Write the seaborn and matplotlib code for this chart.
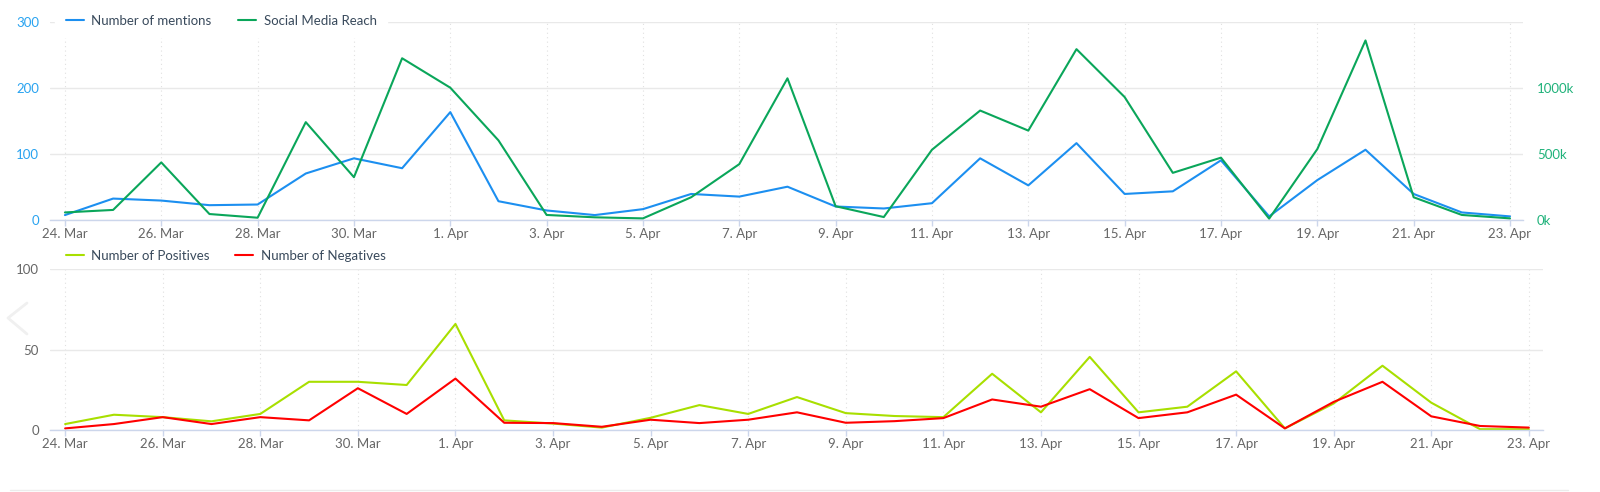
import numpy as np
import pandas as pd
import matplotlib.pyplot as plt
import matplotlib.dates as mdates
from matplotlib.ticker import FuncFormatter
from matplotlib.lines import Line2D
import seaborn as sns

# daily values, 24 Mar - 23 Apr
dates = pd.date_range("2020-03-24", "2020-04-23", freq="D")

mentions = [7, 32, 29, 22, 23, 70, 93, 78, 163, 28,
            14, 7, 16, 39, 35, 50, 20, 17, 25, 93,
            52, 116, 39, 43, 90, 5, 60, 106, 39, 11, 5]
reach = [55e3, 74e3, 434e3, 43e3, 15e3, 739e3, 322e3, 1223e3, 1000e3, 601e3,
         36e3, 18e3, 10e3, 170e3, 421e3, 1071e3, 102e3, 20e3, 530e3, 827e3,
         675e3, 1292e3, 929e3, 355e3, 470e3, 8e3, 535e3, 1358e3, 170e3, 36e3, 10e3]

positives = [3.7, 9.5, 8, 5.4, 10, 30, 30, 28, 66, 6,
             4, 1.5, 7.6, 15.5, 10, 20.5, 10.5, 8.7, 8, 35,
             11, 45.5, 11, 14.5, 36.5, 1, 16.5, 40, 17, 0.5, 0.5]
negatives = [1, 3.7, 8, 3.7, 8, 6, 26, 10, 32, 4.5,
             4.3, 2, 6.4, 4.3, 6.4, 11, 4.5, 5.5, 7.4, 19,
             14.5, 25.4, 7.4, 11, 22, 1, 17.5, 30, 8.5, 2.5, 1.5]

C_MENT = "#1c8ff0"
C_REACH = "#0aa65a"
C_POS = "#a8df00"
C_NEG = "#ff0000"
GRID = "#e9e9e9"
AXIS = "#ccd6eb"
LABEL = "#666666"
LEGEND_TXT = "#394a5c"

sns.set_theme(style="white")
plt.rcParams["font.family"] = ["Lato", "DejaVu Sans"]

fig = plt.figure(figsize=(16, 4.92), dpi=100)

W, H = 1600, 492
ax = fig.add_axes([50 / W, 1 - 219.7 / H, (1523 - 50) / W, (219.7 - 21.7) / H])
ax_b = fig.add_axes([50 / W, 1 - 430 / H, (1543 - 50) / W, (430 - 269.3) / H])

df_top = pd.DataFrame({"date": dates, "mentions": mentions, "reach": reach})
df_bot = pd.DataFrame({"date": dates, "Number of Positives": positives,
                       "Number of Negatives": negatives})
df_bot = df_bot.melt(id_vars="date", var_name="series", value_name="count")

tick_dates = dates[::2]


def day_fmt(x, pos):
    d = mdates.num2date(x)
    return f"{d.day}. {d:%b}"


def style_axis(a, pad_left, pad_right):
    a.set_xlim(dates[0] - pd.Timedelta(days=pad_left), dates[-1] + pd.Timedelta(days=pad_right))
    a.set_xticks(tick_dates)
    a.xaxis.set_major_formatter(FuncFormatter(day_fmt))
    for s in ["top", "left", "right"]:
        a.spines[s].set_visible(False)
    a.spines["bottom"].set_color(AXIS)
    a.spines["bottom"].set_linewidth(1)
    a.grid(axis="y", color=GRID, linewidth=1, linestyle="-")
    a.grid(axis="x", color="#e0e0e0", linewidth=0.8, linestyle=(0, (1, 3)))
    a.set_axisbelow(True)
    a.tick_params(axis="x", colors=AXIS, labelcolor=LABEL, length=4, width=1,
                  labelsize=9.5, pad=2, bottom=True)
    a.tick_params(axis="y", length=0, labelsize=9.5, pad=8)
    a.set_xlabel("")
    a.set_ylabel("")


# top panel: mentions and reach
sns.lineplot(data=df_top, x="date", y="mentions", ax=ax, color=C_MENT,
             linewidth=1.5, label="Number of mentions", legend=False)
ax2 = ax.twinx()
sns.lineplot(data=df_top, x="date", y="reach", ax=ax2, color=C_REACH,
             linewidth=1.5, label="Social Media Reach", legend=False)

style_axis(ax, 0.31, 0.27)
ax.set_ylim(0, 300)
ax.set_yticks([0, 100, 200, 300])
ax.tick_params(axis="y", labelcolor="#29a3f0")

ax2.set_ylim(0, 1.5e6)
ax2.set_yticks([0, 5e5, 1e6])
ax2.yaxis.set_major_formatter(FuncFormatter(lambda v, p: f"{int(v / 1000)}k"))
ax2.tick_params(axis="y", length=0, labelsize=9.5, pad=10, labelcolor="#1fb27a")
ax2.grid(False)
for s in ax2.spines.values():
    s.set_visible(False)
ax2.set_ylabel("")

h1, l1 = ax.get_legend_handles_labels()
h2, l2 = ax2.get_legend_handles_labels()
leg = ax2.legend(h1 + h2, l1 + l2, loc="center left",
                 bbox_to_anchor=(55 / W, 1 - 20.7 / H), bbox_transform=fig.transFigure,
                 ncol=2, frameon=True, facecolor="white", edgecolor="white", framealpha=1,
                 fontsize=9.5, handlelength=1.4, handletextpad=0.55, columnspacing=2.0,
                 borderpad=0.8, borderaxespad=0, fancybox=False)
for t in leg.get_texts():
    t.set_color(LEGEND_TXT)

# bottom panel: positives and negatives
sns.lineplot(data=df_bot, x="date", y="count", hue="series", ax=ax_b,
             palette={"Number of Positives": C_POS, "Number of Negatives": C_NEG},
             linewidth=1.5)
style_axis(ax_b, 0.31, 0.29)
ax_b.set_ylim(0, 100)
ax_b.set_yticks([0, 50, 100])
ax_b.tick_params(axis="y", labelcolor=LABEL)

hb, lb = ax_b.get_legend_handles_labels()
leg_b = ax_b.legend(hb, lb, loc="center left",
                    bbox_to_anchor=(55 / W, 1 - 255.7 / H), bbox_transform=fig.transFigure,
                    ncol=2, frameon=False, fontsize=9.5, handlelength=1.4,
                    handletextpad=0.55, columnspacing=1.9, borderpad=0.8, borderaxespad=0)
for t in leg_b.get_texts():
    t.set_color(LEGEND_TXT)

# faint page decorations: carousel arrow and bottom divider
fig.add_artist(Line2D([27 / W, 8 / W, 27 / W], [1 - 303 / H, 1 - 318 / H, 1 - 334 / H],
                      color="#f0f0f0", linewidth=2))
fig.add_artist(Line2D([10 / W, 1568 / W], [1 - 490 / H, 1 - 490 / H],
                      color="#ececec", linewidth=1))

fig.savefig("out.png", dpi=100)
